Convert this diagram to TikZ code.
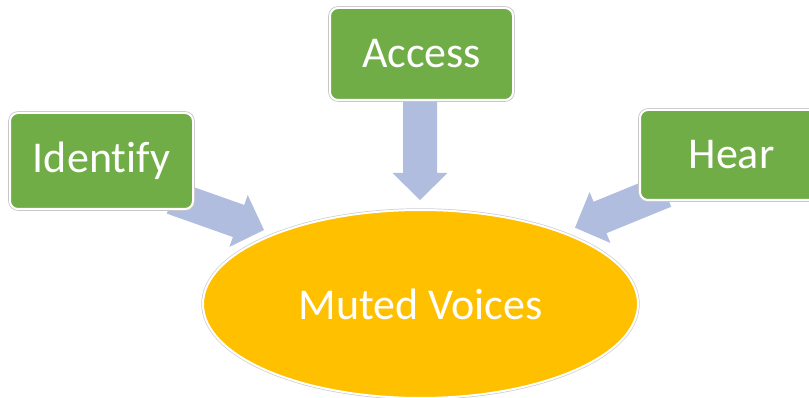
\documentclass[tikz,border=0pt]{standalone}
\usepackage{fontspec}
\setmainfont{Carlito}[Ligatures=NoCommon]
\usetikzlibrary{calc,shapes.geometric}
\definecolor{boxgreen}{HTML}{70AD47}
\definecolor{ellyellow}{HTML}{FFC000}
\definecolor{arrowc}{RGB}{176,189,223}
\tikzset{
  greenbox/.style={rectangle, rounded corners=8pt, fill=boxgreen, draw=white, line width=2pt,
    preaction={draw=black!22, line width=3.6pt},
    minimum width=183pt, minimum height=92pt, inner sep=0pt,
    text=white, font=\fontsize{44}{50}\selectfont},
  centre/.style={ellipse, fill=ellyellow, draw=white, line width=2pt,
    preaction={draw=black!20, line width=3.4pt},
    minimum width=435pt, minimum height=188pt, inner sep=0pt,
    text=white, font=\fontsize{44}{50}\selectfont}
}
\newcommand\blockarrow[3]{%
  \coordinate (#3h) at ($(#2)!27pt!(#1)$);
  \fill[arrowc] ($(#1)!17pt!90:(#2)$) -- ($(#3h)!17pt!90:(#2)$) -- ($(#3h)!27.5pt!90:(#2)$)
    -- (#2) -- ($(#3h)!27.5pt!-90:(#2)$) -- ($(#3h)!17pt!-90:(#2)$) -- ($(#1)!17pt!-90:(#2)$) -- cycle;
}
\begin{document}
\begin{tikzpicture}[x=1pt,y=-1pt]
\useasboundingbox (0,0) rectangle (809,398);
\clip (0,0) rectangle (809,398);
% arrow end points
\coordinate (accS) at (420,95);
\coordinate (accT) at (420,200);
\coordinate (idS) at (172.5,197.6);
\coordinate (idT) at (264,230);
\coordinate (hrS) at (664.8,191);
\coordinate (hrT) at (575,227.7);
\blockarrow{accS}{accT}{acc}
\blockarrow{idS}{idT}{id}
\blockarrow{hrS}{hrT}{hr}
% nodes
\node[greenbox] (access) at (421.5,54) {Access};
\node[greenbox, minimum height=96pt] (identify) at (101.5,161) {Identify};
\node[greenbox, minimum height=90pt] (hear) at (731.5,155) {Hear};
\node[centre] (muted) at (420.5,304) {Muted Voices};
\end{tikzpicture}
\end{document}
